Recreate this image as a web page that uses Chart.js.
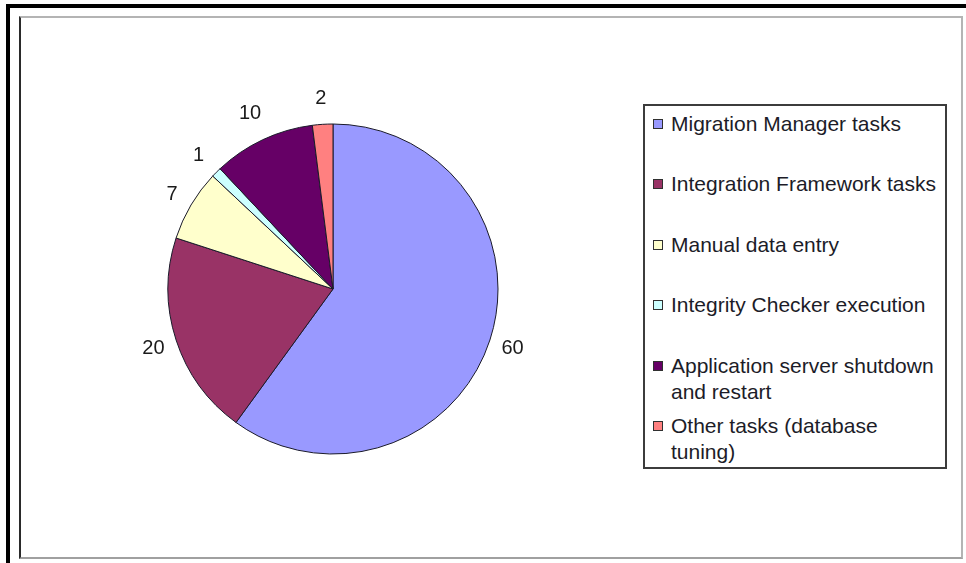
<!DOCTYPE html>
<html>
<head>
<meta charset="utf-8">
<script src="https://cdn.jsdelivr.net/npm/chart.js@4.4.0/dist/chart.umd.min.js"></script>
<style>
    body {
        margin: 0;
        width: 966px;
        height: 563px;
        background: #ffffff;
        overflow: hidden;
        position: relative;
        font-family: "Liberation Sans", Arial, sans-serif;
    }

    #outerFrame {
        position: absolute;
        left: 6px;
        top: 4px;
        width: 970px;
        height: 570px;
        border-top: 4px solid #000;
        border-left: 4px solid #000;
    }

    #chartFrame {
        position: absolute;
        left: 19px;
        top: 16px;
        width: 940px;
        height: 539px;
        border-top: 2px solid #b4b4b4;
        border-left: 2px solid #2a2a2a;
        border-right: 2px solid #b4b4b4;
        border-bottom: 2px solid #a0a0a0;
    }

    #pieChart {
        position: absolute;
        left: 0;
        top: 0;
    }

    #legendBox {
        position: absolute;
        left: 643px;
        top: 104px;
        width: 300px;
        height: 361px;
        border: 2px solid #3c3c3c;
        background: #ffffff;
    }

    .legend-item {
        position: absolute;
        left: 0;
        font-size: 21px;
        line-height: 26px;
        color: #1c1c28;
    }

    .legend-swatch {
        position: absolute;
        left: 8px;
        top: 8px;
        width: 8px;
        height: 8px;
        border: 1px solid #303030;
    }

    .legend-text {
        position: absolute;
        left: 26px;
        top: 0;
        width: 270px;
    }
</style>
</head>
<body>
<div id="outerFrame"></div>
<div id="chartFrame"></div>
<canvas id="pieChart" width="966" height="563"></canvas>
<div id="legendBox"></div>

<script>
// données du graphique
const categories = [
    'Migration Manager tasks',
    'Integration Framework tasks',
    'Manual data entry',
    'Integrity Checker execution',
    'Application server shutdown and restart',
    'Other tasks (database tuning)'
];
const values = [60, 20, 7, 1, 10, 2];
const sliceColors = ['#9999FF', '#993366', '#FFFFCC', '#CCFFFF', '#660066', '#FF8080'];


document.addEventListener("DOMContentLoaded", function () {
    createPieChart();
    createLegend();
});


// étiquettes des valeurs à l'extérieur de chaque part
const outsideLabels = {
    id: 'outsideLabels',
    afterDatasetsDraw(chart) {
        const ctx = chart.ctx;
        const meta = chart.getDatasetMeta(0);
        ctx.save();
        ctx.font = '20px "Liberation Sans", Arial, sans-serif';
        ctx.fillStyle = '#1a1a1a';
        ctx.textAlign = 'center';
        ctx.textBaseline = 'middle';

        meta.data.forEach((arc, i) => {
            const p = arc.getProps(['x', 'y', 'startAngle', 'endAngle', 'outerRadius'], true);
            const mid = (p.startAngle + p.endAngle) / 2;
            const dx = Math.cos(mid);
            const dy = Math.sin(mid);
            const text = String(values[i]);
            const halfW = ctx.measureText(text).width / 2;
            const halfH = 20;
            // distance jusqu'au bord de la boite du texte
            const extent = Math.abs(dx) * halfW + Math.abs(dy) * halfH;
            const dist = p.outerRadius + 7 + extent;
            ctx.fillText(text, p.x + dx * dist, p.y + dy * dist + 1);
        });
        ctx.restore();
    }
};


function createPieChart() {
    const ctx = document.getElementById('pieChart').getContext('2d');
    const pieChart = new Chart(ctx, {
        type: 'pie',
        data: {
            labels: categories,
            datasets: [{
                data: values,
                backgroundColor: sliceColors,
                borderColor: '#1a1a2a',
                borderWidth: 1,
            }]
        },
        options: {
            responsive: false,
            animation: false,
            radius: 165,
            layout: {
                padding: { left: 133, right: 433, top: 89, bottom: 74 }
            },
            plugins: {
                legend: {
                    display: false,
                },
                tooltip: {
                    enabled: false,
                }
            }
        },
        plugins: [outsideLabels]
    });
}


// légende html (le texte revient à la ligne comme dans l'original)
function createLegend() {
    const box = document.getElementById('legendBox');
    categories.forEach((label, i) => {
        const item = document.createElement('div');
        item.className = 'legend-item';
        item.style.top = (5 + i * 60.4) + 'px';

        const swatch = document.createElement('div');
        swatch.className = 'legend-swatch';
        swatch.style.background = sliceColors[i];

        const text = document.createElement('div');
        text.className = 'legend-text';
        text.textContent = label;

        item.appendChild(swatch);
        item.appendChild(text);
        box.appendChild(item);
    });
}
</script>
</body>
</html>
